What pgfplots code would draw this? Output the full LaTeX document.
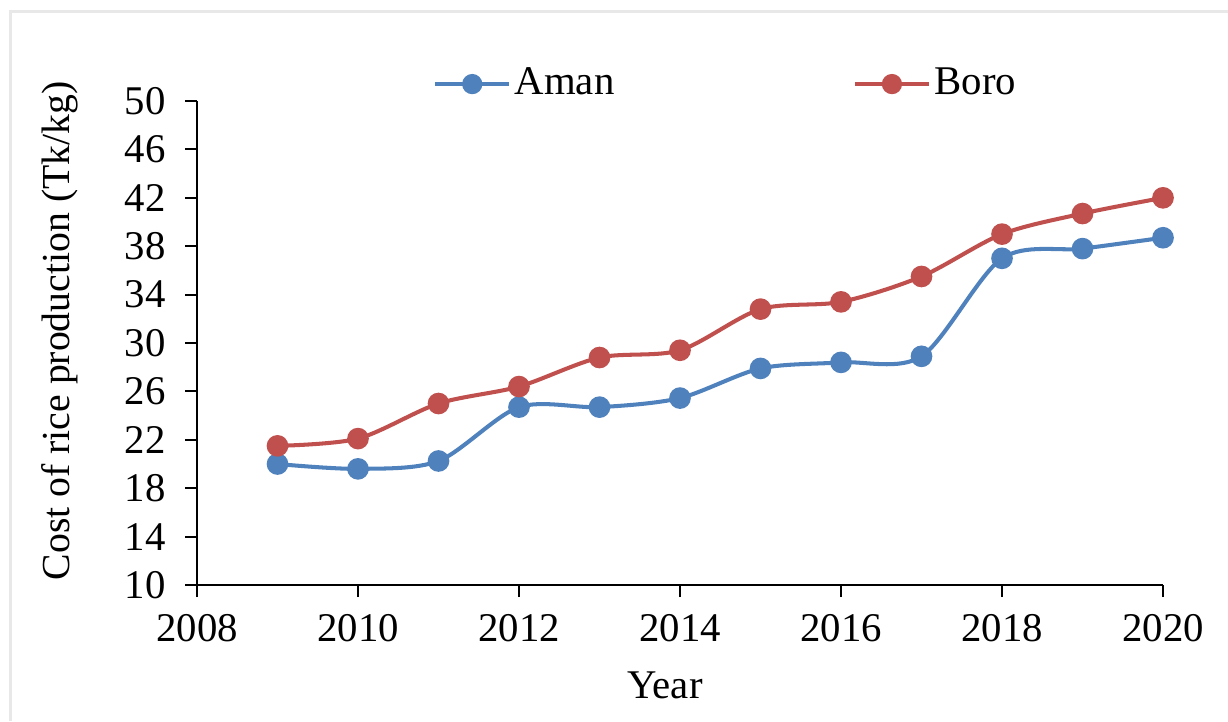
\documentclass[border=0pt]{standalone}
\usepackage{pgfplots}
\pgfplotsset{compat=1.18}
\usepackage{fontspec}
\setmainfont{Liberation Serif}
\definecolor{amanc}{HTML}{4F81BD}
\definecolor{boroc}{HTML}{C0504D}
\begin{document}
\fontsize{11.6}{14}\selectfont
\begin{tikzpicture}
\path[use as bounding box] (0,0) rectangle (12.28cm,7.21cm);
\draw[gray!18,line width=0.03cm] (0.10cm,0) -- (0.10cm,7.09cm) -- (12.28cm,7.09cm);
\begin{axis}[
  at={(1.97cm,1.36cm)}, anchor=south west,
  scale only axis, width=9.66cm, height=4.84cm,
  xmin=2008, xmax=2020, ymin=10, ymax=50,
  xtick={2008,2010,...,2020}, ytick={10,14,...,50},
  axis x line*=bottom, axis y line*=left,
  axis line style={line width=0.6pt, -},
  tick align=outside, major tick length=0.12cm,
  tick style={line width=0.6pt, black},
  /pgf/number format/assume math mode=true,
  /pgf/number format/1000 sep={},
  ticklabel style={font=\fontsize{11.6}{14}\selectfont},
  yticklabel style={xshift=-0.05cm},
  xticklabel style={yshift=-0.03cm},
  xlabel={Year}, ylabel={Cost of rice production (Tk/kg)},
  every axis x label/.style={at={(rel axis cs:0.4845,-0.207)},anchor=center},
  every axis y label/.style={at={(rel axis cs:-0.142,0.525)},anchor=center,rotate=90,font=\fontsize{11.3}{14}\selectfont},
  xlabel style={font=\fontsize{11.6}{14}\selectfont},
  legend columns=2,
  legend style={draw=none, fill=none, at={(rel axis cs:0.548,1.035)}, anchor=center,
    font=\fontsize{11.6}{14}\selectfont, nodes={inner xsep=1pt}},
  /tikz/every even column/.append style={column sep=2.35cm},
  legend image code/.code={\draw[mark repeat=2,mark phase=2, mark size=2.3pt] plot coordinates {(0cm,0cm) (0.37cm,0cm) (0.74cm,0cm)};},
]
\addplot[smooth, color=amanc, line width=1.15pt, mark=*, mark size=2.5pt, mark options={fill=amanc, draw=amanc}]
coordinates {(2009,20.0) (2010,19.6) (2011,20.25) (2012,24.7) (2013,24.7) (2014,25.45) (2015,27.9) (2016,28.4) (2017,28.9) (2018,37.0) (2019,37.8) (2020,38.7)};
\addlegendentry{Aman}
\addplot[smooth, color=boroc, line width=1.15pt, mark=*, mark size=2.5pt, mark options={fill=boroc, draw=boroc}]
coordinates {(2009,21.5) (2010,22.1) (2011,25.0) (2012,26.4) (2013,28.8) (2014,29.4) (2015,32.8) (2016,33.4) (2017,35.5) (2018,39.0) (2019,40.7) (2020,42.0)};
\addlegendentry{Boro}
\end{axis}
\end{tikzpicture}
\end{document}
